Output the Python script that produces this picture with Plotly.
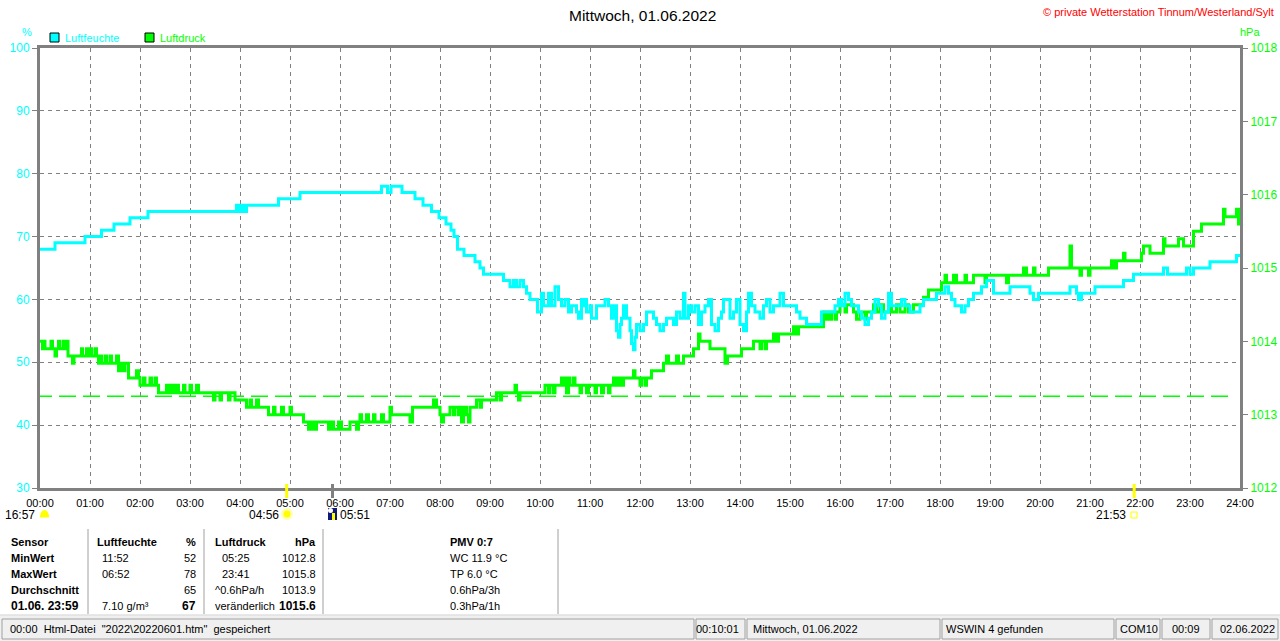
import plotly.graph_objects as go

# --- data (hours after midnight) ---
hum_h = [0.0, 0.3, 0.9, 1.23, 1.48, 1.8, 2.16, 3.93, 3.97, 4.0, 4.03, 4.07, 4.1, 4.13, 4.77, 5.2,
         6.83, 6.95, 7.02, 7.24, 7.5, 7.66, 7.83, 7.98, 8.12, 8.22, 8.28, 8.35, 8.48, 8.7, 8.8, 8.87,
         9.27, 9.4, 9.47, 9.53, 9.6, 9.67, 9.73, 9.8, 9.95, 10.03, 10.07, 10.13, 10.17, 10.23, 10.3,
         10.37, 10.43, 10.5, 10.57, 10.63, 10.73, 10.77, 10.83, 10.87, 10.9, 10.93, 11.0, 11.03,
         11.13, 11.3, 11.37, 11.43, 11.47, 11.53, 11.57, 11.6, 11.63, 11.67, 11.73, 11.8, 11.83,
         11.87, 11.9, 11.93, 12.0, 12.07, 12.13, 12.2, 12.27, 12.33, 12.4, 12.47, 12.53, 12.6, 12.67,
         12.73, 12.8, 12.87, 12.9, 12.97, 13.03, 13.1, 13.17, 13.23, 13.3, 13.37, 13.43, 13.5, 13.57,
         13.63, 13.67, 13.73, 13.8, 13.87, 13.93, 14.0, 14.07, 14.13, 14.17, 14.23, 14.3, 14.4,
         14.47, 14.53, 14.6, 14.67, 14.77, 14.8, 14.87, 15.0, 15.13, 15.2, 15.33, 15.4, 15.63, 15.73,
         15.8, 15.9, 15.97, 16.03, 16.1, 16.17, 16.23, 16.37, 16.43, 16.5, 16.57, 16.63, 16.7, 16.77,
         16.83, 16.9, 16.97, 17.03, 17.23, 17.3, 17.4, 17.6, 17.67, 17.93, 18.1, 18.17, 18.23, 18.3,
         18.43, 18.5, 18.57, 18.67, 18.83, 18.93, 19.07, 19.4, 19.8, 19.87, 19.97, 20.6, 20.73, 20.77,
         20.83, 21.1, 21.67, 21.87, 22.47, 22.55, 22.93, 23.0, 23.07, 23.4, 23.93, 24.0]
hum_v = [68, 69, 70, 71, 72, 73, 74, 75, 74, 75, 74, 75, 74, 75, 76, 77,
         78, 77, 78, 77, 76, 75, 74, 73, 72, 71, 70, 68, 67, 66, 65, 64,
         63, 62, 63, 62, 63, 62, 61, 60, 58, 61, 59, 59, 61, 59, 62,
         60, 59, 60, 58, 59, 58, 57, 60, 59, 60, 58, 59, 57,
         59, 60, 59, 57, 59, 55, 54, 56, 57, 59, 57, 55, 53,
         52, 54, 56, 55, 56, 58, 58, 57, 56, 55, 56, 57, 57, 56,
         58, 57, 61, 57, 59, 58, 59, 56, 58, 59, 60, 56, 55, 57,
         58, 60, 60, 57, 58, 60, 56, 55, 58, 61, 59, 58, 57,
         59, 60, 58, 59, 59, 61, 59, 59, 58, 57, 56, 56, 58, 58,
         58, 59, 60, 59, 61, 60, 59, 58, 57, 56, 57, 58, 60, 59,
         57, 58, 61, 59, 60, 59, 58, 59, 60, 61, 62, 61, 60, 59,
         58, 59, 60, 61, 62, 63, 61, 62, 61, 60, 61, 62, 61, 60,
         61, 62, 63, 64, 65, 64, 65, 64, 65, 66, 67, 67]

pres_h = [0.0, 0.05, 0.08, 0.1, 0.22, 0.25, 0.3, 0.33, 0.37, 0.4, 0.47, 0.5, 0.53, 0.56, 0.65, 0.68,
          0.83, 0.85, 0.93, 0.96, 1.0, 1.03, 1.1, 1.13, 1.17, 1.2, 1.23, 1.3, 1.33, 1.4, 1.43, 1.53,
          1.57, 1.63, 1.67, 1.7, 1.77, 1.93, 1.97, 2.0, 2.07, 2.1, 2.2, 2.23, 2.3, 2.33, 2.37, 2.53,
          2.57, 2.63, 2.67, 2.73, 2.77, 2.87, 2.9, 3.0, 3.03, 3.13, 3.17, 3.47, 3.5, 3.6, 3.63, 3.77,
          3.8, 3.9, 4.13, 4.2, 4.23, 4.33, 4.37, 4.57, 4.67, 4.7, 4.83, 4.87, 5.0, 5.03, 5.27, 5.37,
          5.43, 5.47, 5.53, 5.77, 5.83, 5.87, 5.97, 6.03, 6.2, 6.33, 6.37, 6.4, 6.43, 6.53, 6.57, 6.67,
          6.7, 6.83, 6.87, 7.0, 7.03, 7.4, 7.45, 7.87, 7.93, 8.0, 8.03, 8.07, 8.2, 8.27, 8.3, 8.37,
          8.4, 8.43, 8.47, 8.53, 8.57, 8.6, 8.73, 8.8, 8.83, 9.13, 9.2, 9.23, 9.5, 9.53, 9.57, 9.6,
          10.1, 10.17, 10.2, 10.27, 10.3, 10.43, 10.47, 10.5, 10.53, 10.57, 10.6, 10.67, 10.7, 10.8,
          10.83, 10.93, 10.97, 11.1, 11.13, 11.23, 11.27, 11.37, 11.4, 11.47, 11.53, 11.57, 11.63,
          11.67, 11.87, 11.9, 12.0, 12.03, 12.1, 12.13, 12.23, 12.47, 12.53, 12.57, 12.73, 12.77,
          12.87, 13.07, 13.17, 13.2, 13.4, 13.7, 13.75, 14.03, 14.27, 14.4, 14.43, 14.5, 14.53, 14.67,
          14.73, 14.77, 15.07, 15.13, 15.17, 15.67, 15.73, 15.77, 15.8, 15.83, 15.9, 15.93, 16.0,
          16.1, 16.13, 16.27, 16.33, 16.4, 16.5, 16.53, 16.67, 16.73, 16.8, 16.87, 16.97, 17.03,
          17.13, 17.2, 17.3, 17.37, 17.47, 17.67, 17.77, 18.03, 18.1, 18.13, 18.27, 18.33, 18.5,
          18.53, 18.67, 18.9, 18.93, 19.33, 19.37, 19.67, 19.73, 19.87, 19.9, 20.17, 20.6, 20.63,
          20.8, 20.83, 20.97, 21.0, 21.43, 21.47, 21.53, 21.67, 21.7, 22.03, 22.07, 22.2, 22.47, 22.5,
          22.77, 22.87, 23.07, 23.23, 23.67, 23.7, 23.93, 23.97, 24.0]
pres_v = [1014.0, 1013.9, 1014.0, 1013.9, 1014.0, 1013.9, 1013.8, 1013.9, 1014.0, 1013.9, 1014.0,
          1013.9, 1014.0, 1013.8, 1013.7, 1013.8, 1013.9, 1013.8, 1013.9, 1013.8, 1013.9, 1013.8,
          1013.9, 1013.8, 1013.7, 1013.8, 1013.7, 1013.8, 1013.7, 1013.8, 1013.7, 1013.8, 1013.6,
          1013.7, 1013.6, 1013.7, 1013.5, 1013.6, 1013.5, 1013.4, 1013.5, 1013.4, 1013.5, 1013.4,
          1013.5, 1013.4, 1013.3, 1013.4, 1013.3, 1013.4, 1013.3, 1013.4, 1013.3, 1013.4, 1013.3,
          1013.4, 1013.3, 1013.4, 1013.3, 1013.2, 1013.3, 1013.2, 1013.3, 1013.2, 1013.3, 1013.2,
          1013.1, 1013.2, 1013.1, 1013.2, 1013.1, 1013.0, 1013.1, 1013.0, 1013.1, 1013.0, 1013.1,
          1013.0, 1012.9, 1012.8, 1012.9, 1012.8, 1012.9, 1012.8, 1012.9, 1012.8, 1012.9, 1012.8,
          1012.9, 1012.8, 1012.9, 1013.0, 1012.9, 1013.0, 1012.9, 1013.0, 1012.9, 1013.0, 1012.9,
          1013.1, 1013.0, 1012.9, 1013.1, 1013.2, 1013.1, 1013.0, 1012.9, 1013.0, 1013.1, 1013.0,
          1013.1, 1013.0, 1013.1, 1012.9, 1013.1, 1013.0, 1012.9, 1013.1, 1013.2, 1013.1, 1013.2,
          1013.3, 1013.2, 1013.3, 1013.4, 1013.3, 1013.2, 1013.3, 1013.4, 1013.3, 1013.4, 1013.3,
          1013.4, 1013.5, 1013.4, 1013.5, 1013.3, 1013.5, 1013.4, 1013.5, 1013.4, 1013.3, 1013.4,
          1013.3, 1013.4, 1013.3, 1013.4, 1013.3, 1013.4, 1013.3, 1013.4, 1013.5, 1013.4, 1013.5,
          1013.4, 1013.5, 1013.6, 1013.5, 1013.4, 1013.5, 1013.4, 1013.5, 1013.6, 1013.7, 1013.8,
          1013.7, 1013.8, 1013.7, 1013.8, 1013.9, 1014.1, 1014.0, 1013.9, 1013.7, 1013.8, 1013.9,
          1014.0, 1013.9, 1014.0, 1013.9, 1014.0, 1014.1, 1014.0, 1014.1, 1014.2, 1014.1, 1014.2,
          1014.4, 1014.3, 1014.4, 1014.3, 1014.4, 1014.3, 1014.4, 1014.5, 1014.4, 1014.5, 1014.4,
          1014.3, 1014.4, 1014.3, 1014.4, 1014.5, 1014.4, 1014.5, 1014.4, 1014.5, 1014.4, 1014.5,
          1014.4, 1014.5, 1014.4, 1014.5, 1014.6, 1014.7, 1014.8, 1014.9, 1014.8, 1014.9, 1014.8,
          1014.9, 1014.8, 1014.9, 1014.8, 1014.9, 1014.8, 1014.9, 1015.0, 1014.9, 1015.0, 1014.9,
          1015.0, 1015.3, 1015.0, 1014.9, 1015.0, 1014.9, 1015.0, 1015.1, 1015.0, 1015.1, 1015.2,
          1015.1, 1015.2, 1015.3, 1015.2, 1015.4, 1015.3, 1015.4, 1015.3, 1015.5, 1015.6, 1015.8,
          1015.7, 1015.8, 1015.6, 1015.6]

ref_pressure = 1013.25
ref_span = [-0.1, 23.8]

tick_labels = ["%02d:00" % h for h in range(25)]
hum_ticks = [30, 40, 50, 60, 70, 80, 90, 100]
pres_ticks = [1012, 1013, 1014, 1015, 1016, 1017, 1018]

# sunrise / moon events under the time axis
event_labels = ["16:57", "04:56", "05:51", "21:53"]

# table below the chart
col_sensor = ["Sensor", "MinWert", "MaxWert", "Durchschnitt", "01.06. 23:59"]
col_hum_txt = ["Luftfeuchte", "11:52", "06:52", "", "7.10 g/m³"]
col_hum_val = ["%", "52", "78", "65", "67"]
col_pres_txt = ["Luftdruck", "05:25", "23:41", "^0.6hPa/h", "veränderlich"]
col_pres_val = ["hPa", "1012.8", "1015.8", "1013.9", "1015.6"]
col_extra = ["PMV 0:7", "WC 11.9 °C", "TP 6.0 °C", "0.6hPa/3h", "0.3hPa/1h"]

status_texts = ['00:00  Html-Datei  "2022\\20220601.htm"  gespeichert', "00:10:01",
                "Mittwoch, 01.06.2022", "WSWIN 4 gefunden", "COM10", "00:09", "02.06.2022"]

CYAN = "#00FFFF"
GREEN = "#00FF00"
GRAY = "#808080"
FONT = "Liberation Sans"


def hm(s):
    h, m = s.split(":")
    return int(h) + int(m) / 60


# pixel -> paper helpers (plot area is 40..1240 x 48..488)
def px(x):
    return (x - 40) / 1200


def py(y):
    return (488 - y) / 440


fig = go.Figure()

fig.add_trace(go.Scatter(x=ref_span, y=[ref_pressure, ref_pressure], yaxis="y", mode="lines",
                         line=dict(color=GREEN, width=1.5, dash="17px,7px"), cliponaxis=False,
                         hoverinfo="skip", showlegend=False))
fig.add_trace(go.Scatter(x=pres_h, y=pres_v, yaxis="y", mode="lines", name="Luftdruck",
                         line=dict(color=GREEN, width=3, shape="hv"), showlegend=False))
fig.add_trace(go.Scatter(x=hum_h, y=hum_v, yaxis="y2", mode="lines", name="Luftfeuchte",
                         line=dict(color=CYAN, width=3, shape="hv"), showlegend=False))

shapes = []
ann = []


def text(x, y, s, color="black", size=11, xa="left", bold=False):
    ann.append(dict(x=px(x), y=py(y), xref="paper", yref="paper", text=("<b>%s</b>" % s) if bold else s,
                    showarrow=False, xanchor=xa, yanchor="middle",
                    font=dict(family=FONT, size=size, color=color)))


def rect(x0, y0, x1, y1, fill=None, line=None, lw=1):
    shapes.append(dict(type="rect", xref="paper", yref="paper", x0=px(x0), x1=px(x1),
                       y0=py(y0), y1=py(y1), fillcolor=fill or "rgba(0,0,0,0)",
                       line=dict(color=line or "rgba(0,0,0,0)", width=lw if line else 0),
                       layer="above"))


def hline_px(x0, x1, y, color, lw=1):
    shapes.append(dict(type="line", xref="paper", yref="paper", x0=px(x0), x1=px(x1),
                       y0=py(y), y1=py(y), line=dict(color=color, width=lw)))


def vline_px(x, y0, y1, color, lw=1):
    shapes.append(dict(type="line", xref="paper", yref="paper", x0=px(x), x1=px(x),
                       y0=py(y0), y1=py(y1), line=dict(color=color, width=lw)))


def disc(x0, y0, x1, y1, fill):
    shapes.append(dict(type="circle", xref="paper", yref="paper", x0=px(x0), x1=px(x1),
                       y0=py(y0), y1=py(y1), fillcolor=fill, line=dict(width=0)))


# header texts
text(643, 15, "Mittwoch, 01.06.2022", size=15.5, xa="center")
text(1276, 12, "© private Wetterstation Tinnum/Westerland/Sylt", color="#FF0000", size=11, xa="right")
text(27, 32, "%", color=CYAN, size=11, xa="center")
text(1250, 32, "hPa", color=GREEN, size=11, xa="center")

# legend
rect(50, 33, 59, 42, fill=CYAN, line="black")
text(63, 38, "Luftfeuchte", color=CYAN, size=11)
rect(145, 33, 154, 42, fill=GREEN, line="black")
text(158, 38, "Luftdruck", color=GREEN, size=11)

# event markers under the axis
for lab, col in zip(event_labels[1:], ["#FFFF00", GRAY, "#FFFF00"]):
    t = hm(lab)
    shapes.append(dict(type="line", xref="x", yref="paper", x0=t, x1=t, y0=py(484), y1=py(498),
                       line=dict(color=col, width=3)))
text(37, 515, event_labels[0], xa="right", size=12)
disc(40, 510, 49, 523, "#FFFF00")
rect(39, 517.5, 50, 524, fill="white")
text(281, 515, event_labels[1], xa="right", size=12)
disc(281, 508, 293, 520, "#FFFFB0")
disc(283.5, 510.5, 290.5, 517.5, "#FFFF00")
rect(328, 508, 337, 520, fill="#101878")
disc(328, 508, 333, 513, "white")
rect(332, 513, 335, 520, fill="#FFFF00")
text(338, 515, event_labels[2], size=12)
text(1128, 515, event_labels[3], xa="right", size=12)
rect(1131, 512, 1137, 518, line="#FFFF00", lw=1)

# table
row_y = [542, 558, 574, 590, 606]
for x in [88, 204, 323, 558]:
    vline_px(x, 529, 614, "#A0A0A0", 1)
for i, y in enumerate(row_y):
    last = i == 4
    sz = 12 if last else 11
    text(9, y, col_sensor[i], bold=True, size=sz)
    text(95 if i == 0 else 100, y, col_hum_txt[i], bold=(i == 0), size=11)
    text(198, y, col_hum_val[i], xa="right", bold=(i == 0 or last), size=sz)
    text(213 if i in (0, 3, 4) else 220, y, col_pres_txt[i], bold=(i == 0), size=11)
    text(318, y, col_pres_val[i], xa="right", bold=(i == 0 or last), size=sz)
    text(448, y, col_extra[i], bold=(i == 0), size=11)

# status bar
rect(0, 615, 1280, 641, fill="#F0F0F0", line="#F0F0F0")
hline_px(0, 1280, 615, "#D8D8D8", 1)
panels = [(2, 694), (696, 745), (747, 940), (942, 1114), (1116, 1160), (1162, 1210), (1212, 1278)]
for x0, x1 in panels:
    rect(x0, 619, x1, 639, line="#A0A0A0", lw=1)
text(8, 629, status_texts[0], size=11)
text(741, 629, status_texts[1], size=11, xa="right")
text(751, 629, status_texts[2], size=11)
text(944, 629, status_texts[3], size=11)
text(1118, 629, status_texts[4], size=11)
text(1186, 629, status_texts[5], size=11, xa="center")
text(1218, 629, status_texts[6], size=11)

fig.update_layout(
    template="none",
    width=1280, height=641,
    margin=dict(l=40, r=40, t=48, b=153, pad=0),
    paper_bgcolor="white", plot_bgcolor="white",
    font=dict(family=FONT, size=11, color="black"),
    showlegend=False,
    xaxis=dict(range=[0, 24], tickvals=list(range(25)), ticktext=tick_labels, automargin=False,
               showgrid=True, gridcolor=GRAY, griddash="4px,4px", gridwidth=1,
               showline=True, linecolor=GRAY, linewidth=3, mirror=True, ticklabelstandoff=3,
               ticks="", zeroline=False, tickfont=dict(size=11, color="black")),
    yaxis=dict(range=[1012, 1018], tickvals=pres_ticks, side="right", showgrid=False,
               automargin=False,
               showline=True, linecolor=GRAY, linewidth=3, ticks="outside", ticklen=5,
               tickcolor=GRAY, zeroline=False, tickfont=dict(size=12, color=GREEN)),
    yaxis2=dict(range=[30, 100], tickvals=hum_ticks, side="left", overlaying="y",
                automargin=False,
                showgrid=True, gridcolor=GRAY, griddash="4px,4px", gridwidth=1,
                showline=True, linecolor=GRAY, linewidth=3, ticks="outside", ticklen=5,
                tickcolor=GRAY, zeroline=False, tickfont=dict(size=12, color=CYAN)),
    shapes=shapes,
    annotations=ann,
)

fig.write_html("out.html", config={"displayModeBar": False},
               post_script="document.body.style.margin='0';")
